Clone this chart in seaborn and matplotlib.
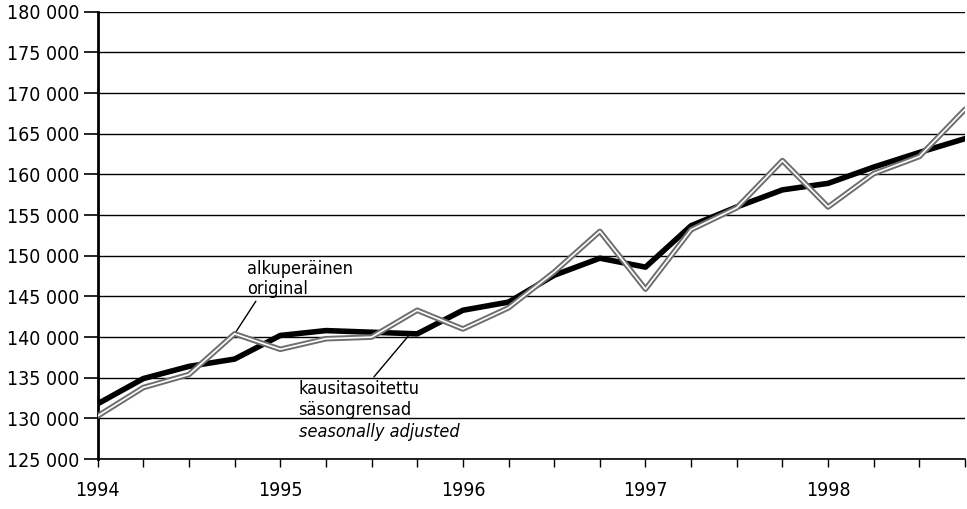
import numpy as np
import pandas as pd
import matplotlib
matplotlib.use('Agg')
import matplotlib.pyplot as plt
import seaborn as sns

# quarterly data 1994Q1 - 1998Q4
years = [1994, 1995, 1996, 1997, 1998]
quarters = [y + q / 4 for y in years for q in range(4)]
original = [130300, 133800, 135400, 140400, 138500, 139800, 140000, 143300, 141000, 143600,
            148000, 153000, 145900, 153200, 155900, 161700, 156000, 160100, 162200, 168000]
adjusted = [131800, 134900, 136400, 137300, 140200, 140800, 140600, 140400, 143300, 144300,
            147600, 149700, 148600, 153700, 156000, 158100, 158900, 160900, 162700, 164400]
y_ticks = list(range(125000, 180001, 5000))

label_orig = "alkuperäinen\noriginal"
label_sa = "kausitasoitettu\nsäsongrensad"
label_sa_en = "seasonally adjusted"

df = pd.DataFrame({'quarter': quarters, 'original': original, 'adjusted': adjusted})

sns.set_style('white')
plt.rcParams['font.family'] = ['DejaVu Sans']
plt.rcParams['font.stretch'] = 'condensed'
plt.rcParams['text.color'] = 'black'
plt.rcParams['xtick.color'] = 'black'
plt.rcParams['ytick.color'] = 'black'

fig = plt.figure(figsize=(9.67, 5.09), dpi=100)
ax = fig.add_axes([0.101, 0.098, 0.897, 0.879])

# horizontal grid lines
for v in y_ticks:
    ax.axhline(v, color='black', lw=1.0, zorder=1)

sns.lineplot(data=df, x='quarter', y='adjusted', color='black', lw=4.0, ax=ax, zorder=3)
sns.lineplot(data=df, x='quarter', y='original', color='#6e6e6e', lw=4.0, ax=ax, zorder=4)
sns.lineplot(data=df, x='quarter', y='original', color='white', lw=1.2, ax=ax, zorder=5)

ax.set_xlim(quarters[0], quarters[-1])
ax.set_ylim(y_ticks[0], y_ticks[-1])

ax.set_yticks(y_ticks)
ax.set_yticklabels([f"{v:,}".replace(',', ' ') for v in y_ticks], fontsize=14)
ax.set_xticks(quarters)
ax.set_xticklabels([str(int(q)) if q == int(q) else '' for q in quarters], fontsize=14)
ax.tick_params(axis='y', length=10, width=1.2, color='black', pad=3, left=True)
ax.tick_params(axis='x', length=6, width=1.0, color='black', pad=10, bottom=True)

ax.set_xlabel('')
ax.set_ylabel('')
for side in ['top', 'right']:
    ax.spines[side].set_visible(False)
ax.spines['left'].set_linewidth(2.0)
ax.spines['left'].set_color('black')
ax.spines['bottom'].set_linewidth(1.2)
ax.spines['bottom'].set_color('black')

# annotations
ax.annotate(label_orig, xy=(quarters[3], original[3]), xytext=(1994.82, 149500),
            fontsize=13, va='top', ha='left', linespacing=1.15,
            arrowprops=dict(arrowstyle='-', color='black', lw=1.0, shrinkA=0, shrinkB=0,
                            relpos=(0.1, 0.0)))
ax.annotate(label_sa, xy=(1995.70, adjusted[7] - 300), xytext=(1995.10, 134700),
            fontsize=13, va='top', ha='left', linespacing=1.2,
            arrowprops=dict(arrowstyle='-', color='black', lw=1.0, shrinkA=0, shrinkB=0,
                            relpos=(0.6, 1.0)))
ax.text(1995.10, 129500, label_sa_en, fontsize=13, style='italic', va='top', ha='left')

fig.savefig('out.png', dpi=100)
